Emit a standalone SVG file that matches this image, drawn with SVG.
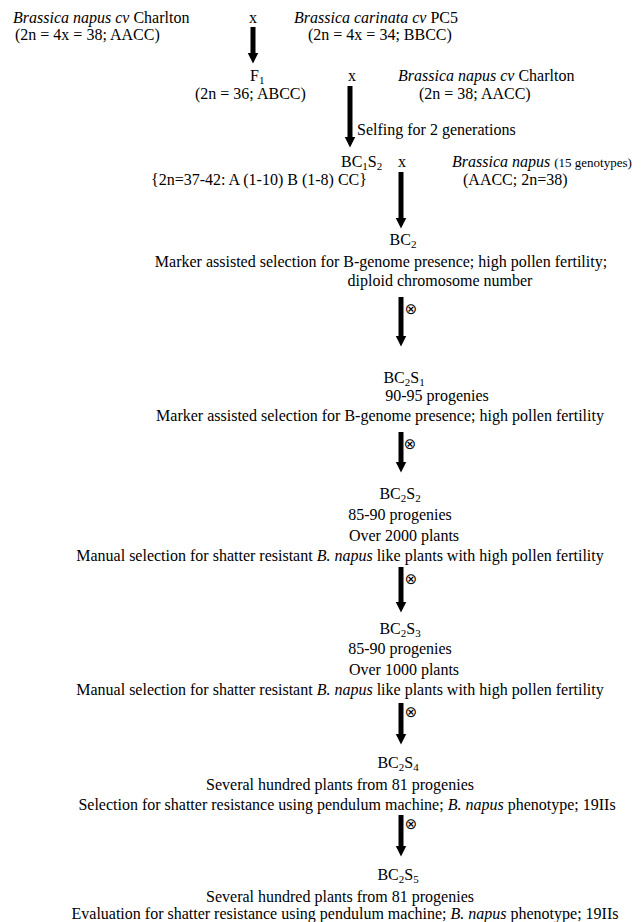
<svg xmlns="http://www.w3.org/2000/svg" width="644" height="922" viewBox="0 0 644 922">
<style>
text{font-family:"Liberation Serif","Times New Roman",serif;font-size:16px;fill:#000}
.i{font-style:italic}
.c{text-anchor:middle}
.s{font-size:11px}
.sm{font-size:13px}
.o{font-family:"DejaVu Sans",sans-serif;font-size:15px;text-anchor:middle}
.ar{stroke:#000;stroke-width:5;fill:none}
</style>
<defs>
<marker id="ah" markerUnits="userSpaceOnUse" markerWidth="11" markerHeight="12" refX="0.5" refY="5.5" orient="auto">
<path d="M0,0 L11,5.5 L0,11 Z" fill="#000"/>
</marker>
</defs>
<rect width="644" height="922" fill="#fff"/>
<g id="connectors">
<line class="ar" x1="253" y1="27" x2="253" y2="53" marker-end="url(#ah)"/>
<line class="ar" x1="350" y1="86" x2="350" y2="137" marker-end="url(#ah)"/>
<line class="ar" x1="401" y1="172" x2="401" y2="218" marker-end="url(#ah)"/>
<line class="ar" x1="401" y1="297" x2="401" y2="336" marker-end="url(#ah)"/>
<line class="ar" x1="401" y1="432" x2="401" y2="462" marker-end="url(#ah)"/>
<line class="ar" x1="401" y1="567" x2="401" y2="602" marker-end="url(#ah)"/>
<line class="ar" x1="401" y1="703" x2="401" y2="734" marker-end="url(#ah)"/>
<line class="ar" x1="401" y1="815" x2="401" y2="846" marker-end="url(#ah)"/>
<text x="357" y="135">Selfing for 2 generations</text>
<text class="o" x="411" y="314">⊗</text>
<text class="o" x="410" y="449">⊗</text>
<text class="o" x="411" y="584">⊗</text>
<text class="o" x="411" y="717">⊗</text>
<text class="o" x="411" y="829">⊗</text>
</g>
<g id="parent1">
<text x="13" y="23"><tspan class="i">Brassica napus cv</tspan> Charlton</text>
<text x="15" y="40">(2n = 4x = 38; AACC)</text>
</g>
<g id="cross1">
<text class="c" x="253" y="23">x</text>
</g>
<g id="parent2">
<text x="294" y="23"><tspan class="i">Brassica carinata cv</tspan> PC5</text>
<text x="308" y="40">(2n = 4x = 34; BBCC)</text>
</g>
<g id="f1">
<text x="250" y="81">F<tspan class="s" dy="3">1</tspan></text>
<text x="195" y="99">(2n = 36; ABCC)</text>
</g>
<g id="cross2">
<text class="c" x="352" y="81">x</text>
</g>
<g id="parent3">
<text x="398" y="81"><tspan class="i">Brassica napus cv</tspan> Charlton</text>
<text x="419" y="99">(2n = 38; AACC)</text>
</g>
<g id="bc1s2">
<text x="341" y="167">BC<tspan class="s" dy="3">1</tspan><tspan dy="-3">S</tspan><tspan class="s" dy="3">2</tspan></text>
<text x="151" y="185">{2n=37-42: A (1-10) B (1-8) CC}</text>
</g>
<g id="cross3">
<text class="c" x="402" y="167">x</text>
</g>
<g id="parent4">
<text x="452" y="167"><tspan class="i">Brassica napus</tspan> <tspan class="sm">(15 genotypes)</tspan></text>
<text x="463" y="185">(AACC; 2n=38)</text>
</g>
<g id="bc2">
<text class="c" x="403" y="245">BC<tspan class="s" dy="3">2</tspan></text>
<text class="c" x="381" y="267">Marker assisted selection for B-genome presence; high pollen fertility;</text>
<text class="c" x="440" y="286">diploid chromosome number</text>
</g>
<g id="bc2s1">
<text class="c" x="404" y="383">BC<tspan class="s" dy="3">2</tspan><tspan dy="-3">S</tspan><tspan class="s" dy="3">1</tspan></text>
<text class="c" x="437" y="401">90-95 progenies</text>
<text class="c" x="380" y="421">Marker assisted selection for B-genome presence; high pollen fertility</text>
</g>
<g id="bc2s2">
<text class="c" x="400" y="499">BC<tspan class="s" dy="3">2</tspan><tspan dy="-3">S</tspan><tspan class="s" dy="3">2</tspan></text>
<text class="c" x="400" y="520">85-90 progenies</text>
<text class="c" x="404" y="541">Over 2000 plants</text>
<text class="c" x="340" y="561">Manual selection for shatter resistant <tspan class="i">B. napus</tspan> like plants with high pollen fertility</text>
</g>
<g id="bc2s3">
<text class="c" x="400" y="634">BC<tspan class="s" dy="3">2</tspan><tspan dy="-3">S</tspan><tspan class="s" dy="3">3</tspan></text>
<text class="c" x="400" y="654">85-90 progenies</text>
<text class="c" x="404" y="675">Over 1000 plants</text>
<text class="c" x="340" y="695">Manual selection for shatter resistant <tspan class="i">B. napus</tspan> like plants with high pollen fertility</text>
</g>
<g id="bc2s4">
<text class="c" x="398" y="768">BC<tspan class="s" dy="3">2</tspan><tspan dy="-3">S</tspan><tspan class="s" dy="3">4</tspan></text>
<text class="c" x="340" y="790">Several hundred plants from 81 progenies</text>
<text class="c" x="347" y="810">Selection for shatter resistance using pendulum machine; <tspan class="i">B. napus</tspan> phenotype; 19IIs</text>
</g>
<g id="bc2s5">
<text class="c" x="398" y="880">BC<tspan class="s" dy="3">2</tspan><tspan dy="-3">S</tspan><tspan class="s" dy="3">5</tspan></text>
<text class="c" x="340" y="902">Several hundred plants from 81 progenies</text>
<text class="c" x="345" y="919">Evaluation for shatter resistance using pendulum machine; <tspan class="i">B. napus</tspan> phenotype; 19IIs</text>
</g>
</svg>
